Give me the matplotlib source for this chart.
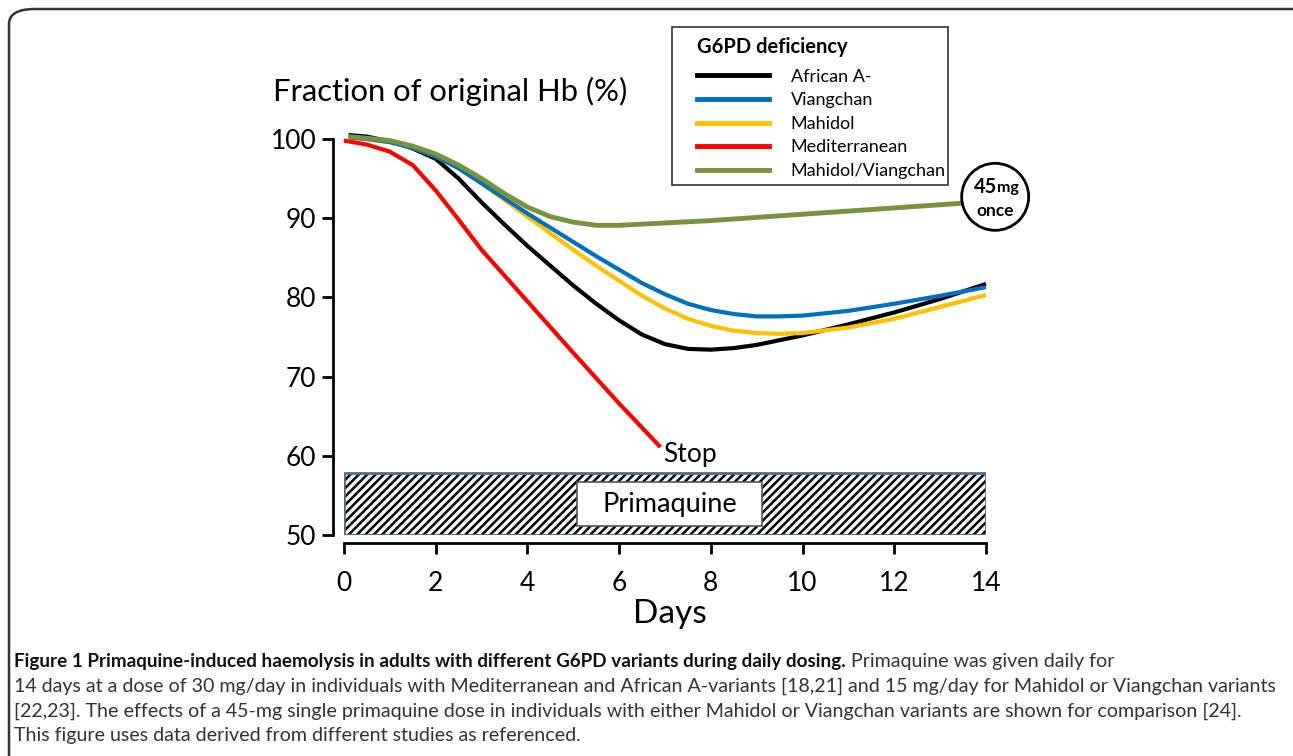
import numpy as np
import matplotlib
matplotlib.use("Agg")
import matplotlib.pyplot as plt
from matplotlib.patches import Rectangle, Ellipse, FancyBboxPatch
from matplotlib.lines import Line2D

plt.rcParams['font.family'] = ['Lato', 'DejaVu Sans']
plt.rcParams['hatch.linewidth'] = 1.8

# data (days, % of original Hb)
days_african = [0.1, 0.5, 1, 1.5, 2, 2.5, 3, 3.5, 4, 4.5, 5, 5.5, 6, 6.5, 7, 7.5, 8, 8.5, 9, 9.5, 10, 11, 12, 13, 14]
hb_african = [100.5, 100.3, 99.7, 98.8, 97.5, 95.0, 92.0, 89.2, 86.5, 84.0, 81.5, 79.2, 77.1, 75.3, 74.1, 73.5, 73.4, 73.6, 74.0, 74.6, 75.2, 76.6, 78.1, 79.8, 81.7]

days_viang = [0.1, 0.5, 1, 1.5, 2, 2.5, 3, 3.5, 4, 4.5, 5, 5.5, 6, 6.5, 7, 7.5, 8, 8.5, 9, 9.5, 10, 11, 12, 13, 14]
hb_viang = [100.2, 100.0, 99.6, 98.9, 97.8, 96.3, 94.4, 92.5, 90.6, 88.8, 87.0, 85.2, 83.5, 81.8, 80.4, 79.2, 78.4, 77.9, 77.6, 77.6, 77.7, 78.3, 79.2, 80.2, 81.3]

days_mahidol = [0.1, 0.5, 1, 1.5, 2, 2.5, 3, 3.5, 4, 4.5, 5, 5.5, 6, 6.5, 7, 7.5, 8, 8.5, 9, 9.5, 10, 11, 12, 13, 14]
hb_mahidol = [100.2, 100.0, 99.6, 98.9, 97.8, 96.3, 94.4, 92.3, 90.2, 88.1, 86.0, 84.0, 82.1, 80.2, 78.6, 77.3, 76.4, 75.8, 75.5, 75.4, 75.5, 76.2, 77.3, 78.8, 80.3]

days_medit = [0.0, 0.5, 1, 1.5, 2, 2.5, 3, 4, 5, 6, 6.9]
hb_medit = [99.8, 99.3, 98.4, 96.7, 93.5, 89.8, 86.0, 79.5, 73.0, 66.6, 61.1]

days_mv = [0.1, 0.5, 1, 1.5, 2, 2.5, 3, 3.5, 4, 4.5, 5, 5.5, 6, 7, 8, 9, 10, 11, 12, 13, 13.5]
hb_mv = [100.3, 100.1, 99.8, 99.1, 98.1, 96.7, 95.0, 93.1, 91.4, 90.2, 89.5, 89.1, 89.1, 89.4, 89.7, 90.1, 90.5, 90.9, 91.3, 91.7, 91.9]

names = ['African A-', 'Viangchan', 'Mahidol', 'Mediterranean', 'Mahidol/Viangchan']
colors = ['#000000', '#0070c0', '#ffc000', '#ff0000', '#77933c']
widths = [3, 3, 3, 3, 3.5]

xticks = [0, 2, 4, 6, 8, 10, 12, 14]
yticks = [50, 60, 70, 80, 90, 100]

W, H = 1293, 756
fig = plt.figure(figsize=(W / 100, H / 100), dpi=100)

def fx(px):
    return px / W

def fy(py):
    return 1 - py / H

# outer rounded frame
frame = FancyBboxPatch((fx(9), fy(830)), fx(1320) - fx(9), fy(9) - fy(830),
                       boxstyle="round,pad=0,rounding_size=0.02",
                       transform=fig.transFigure, facecolor='none',
                       edgecolor='#333333', linewidth=1.8, zorder=0)
fig.patches.append(frame)

ax = fig.add_axes([fx(344), fy(535), fx(986) - fx(344), fy(139) - fy(535)])
ax.set_xlim(0, 14)
ax.set_ylim(50, 100)
ax.patch.set_alpha(0)

for s in ['top', 'right']:
    ax.spines[s].set_visible(False)
ax.spines['left'].set_position(('outward', 8))
ax.spines['bottom'].set_position(('outward', 6))
ax.spines['left'].set_bounds(50, 100)
ax.spines['bottom'].set_bounds(0, 14)
ax.spines['left'].set_linewidth(2)
ax.spines['bottom'].set_linewidth(2)
ax.set_xticks(xticks)
ax.set_yticks(yticks)
ax.tick_params(axis='both', width=2, length=8, labelsize=19, pad=4)
ax.tick_params(axis='x', pad=12)

# primaquine dosing bar
ax.add_patch(Rectangle((0, 50), 14, 7.8, facecolor='white', edgecolor='black',
                       hatch='////', linewidth=0, zorder=1))
ax.add_patch(Rectangle((0, 50), 14, 7.8, facecolor='none', edgecolor='#4f6b8f',
                       linewidth=2, zorder=2))
ax.add_patch(Rectangle((5.08, 51.1), 4.03, 5.6, facecolor='white', edgecolor='#555555',
                       linewidth=1.2, zorder=3))
ax.text(7.1, 53.9, 'Primaquine', ha='center', va='center', fontsize=19.5, zorder=4)

series = [(days_african, hb_african), (days_viang, hb_viang), (days_mahidol, hb_mahidol),
          (days_medit, hb_medit), (days_mv, hb_mv)]
order = [3, 0, 2, 1, 4]
for i in order:
    d, h = series[i]
    ax.plot(d, h, color=colors[i], linewidth=widths[i], solid_capstyle='butt',
            solid_joinstyle='round', clip_on=False, zorder=5 + order.index(i))

ax.text(6.95, 60.2, 'Stop', ha='left', va='center', fontsize=19)

# 45 mg single dose marker
ax.add_patch(Ellipse((14.2, 92.7), 67 / 45.86, 67 / 7.92, facecolor='white',
                     edgecolor='black', linewidth=2, clip_on=False, zorder=10))
ax.text(14.24, 93.9, '45', ha='right', va='center', fontsize=14.5, fontweight='bold',
        clip_on=False, zorder=11)
ax.text(14.24, 93.8, 'mg', ha='left', va='center', fontsize=11.5, fontweight='bold',
        clip_on=False, zorder=11)
ax.text(14.2, 90.9, 'once', ha='center', va='center', fontsize=12.5, fontweight='bold',
        clip_on=False, zorder=11)

fig.text(fx(273), fy(91), 'Fraction of original Hb (%)', fontsize=22.3, va='center', ha='left')
fig.text(fx(670), fy(614), 'Days', fontsize=24, va='center', ha='center')

# legend: library legend without frame, frame drawn as a box round it
fig.patches.append(Rectangle((fx(672), fy(185)), fx(948) - fx(672), fy(27) - fy(185),
                             transform=fig.transFigure, facecolor='white',
                             edgecolor='#333333', linewidth=1.2, zorder=1))
handles = [Line2D([], [], color=c, linewidth=3.5) for c in colors]
leg = fig.legend(handles, names, loc='upper left', bbox_to_anchor=(fx(687), fy(27)),
                 frameon=False, fontsize=13, title='G6PD deficiency',
                 title_fontproperties={'weight': 'bold', 'size': 14.5},
                 alignment='left', handlelength=4.0, handletextpad=1.2,
                 labelspacing=0.42, borderpad=0.55, borderaxespad=0)
leg._legend_box.sep = 8.5
leg.set_zorder(2)

# caption
cap_font = ['Liberation Sans Narrow', 'Lato', 'DejaVu Sans']
bold_part = 'Figure 1 Primaquine-induced haemolysis in adults with different G6PD variants during daily dosing.'
lines = [' Primaquine was given daily for',
         '14 days at a dose of 30 mg/day in individuals with Mediterranean and African A-variants [18,21] and 15 mg/day for Mahidol or Viangchan variants',
         '[22,23]. The effects of a 45-mg single primaquine dose in individuals with either Mahidol or Viangchan variants are shown for comparison [24].',
         'This figure uses data derived from different studies as referenced.']

renderer = fig.canvas.get_renderer()
probe = fig.text(fx(14), fy(686), lines[1], fontsize=14, family=cap_font, va='center')
wpx = probe.get_window_extent(renderer).width
cap_size = 14 * (1283 - 14) / wpx
probe.remove()
probe = fig.text(fx(14), fy(662), bold_part, fontsize=14, family=cap_font,
                 fontweight='bold', va='center')
bold_size = 14 * (848 - 14) / probe.get_window_extent(renderer).width
probe.remove()

t_bold = fig.text(fx(14), fy(662), bold_part, fontsize=bold_size, family=cap_font,
                  fontweight='bold', va='center', color='#111111')
bw = t_bold.get_window_extent(renderer).width
fig.text(fx(14 + bw), fy(662), lines[0], fontsize=cap_size, family=cap_font,
         va='center', color='#333333')
for k, yy in zip([1, 2, 3], [686, 711, 735]):
    fig.text(fx(14), fy(yy), lines[k], fontsize=cap_size, family=cap_font,
             va='center', color='#333333')

fig.savefig('out.png', dpi=100)
